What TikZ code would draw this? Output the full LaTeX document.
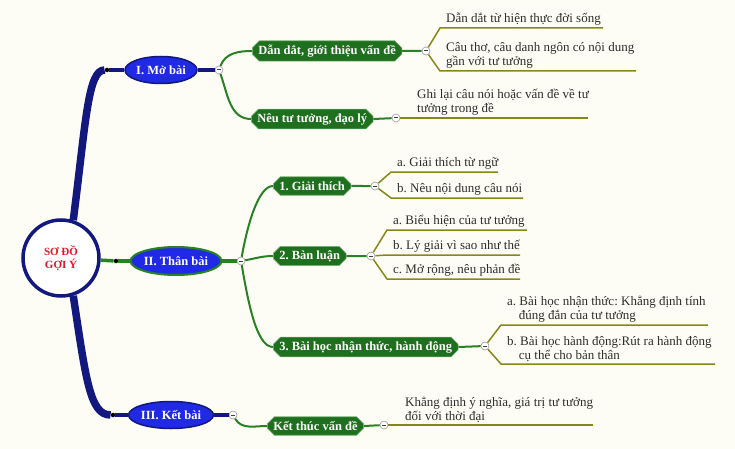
\documentclass[tikz,border=0pt]{standalone}
\usepackage{fontspec}
\setmainfont{Liberation Serif}
\usetikzlibrary{shapes.geometric,shapes.misc}
\frenchspacing

\definecolor{navy}{RGB}{18,24,125}
\definecolor{ovalblue}{RGB}{32,42,228}
\definecolor{leafgreen}{RGB}{40,130,36}
\definecolor{boxgreen}{RGB}{30,112,30}
\definecolor{olive}{RGB}{135,135,25}
\definecolor{paper}{RGB}{253,253,246}
\definecolor{ink}{RGB}{45,45,45}
\definecolor{titlered}{RGB}{226,22,40}

\tikzset{
  hub/.style={circle,draw=navy,line width=3.5pt,fill=white,minimum size=76pt,
    align=center,text=titlered,font=\bfseries\fontsize{11}{13}\selectfont},
  oval/.style={ellipse,fill=ovalblue,draw=navy,line width=1.5pt,inner sep=0pt,
    text=white,font=\bfseries\fontsize{12.5}{14}\selectfont},
  topic/.style={chamfered rectangle,chamfered rectangle xsep=4pt,fill=boxgreen,
    draw=leafgreen!60!white,line width=0.6pt,minimum height=18.5pt,inner xsep=2pt,
    inner ysep=1pt,anchor=west,text=white,font=\bfseries\fontsize{12.5}{14}\selectfont},
  leaf/.style={anchor=south west,align=left,inner xsep=6pt,inner ysep=2pt,
    text=ink,font=\fontsize{13}{14}\selectfont},
  fold/.style={circle,draw=gray!80,fill=white,line width=0.6pt,minimum size=8pt,inner sep=0pt,
    path picture={\draw[line width=1pt,black!75] ([xshift=-2pt]path picture bounding box.center)
      -- ([xshift=2pt]path picture bounding box.center);}},
  dot/.style={circle,fill=black,inner sep=0pt,minimum size=4.5pt},
  trunk/.style={navy,line width=7.5pt},
  stem/.style={line width=3.5pt},
  twig/.style={leafgreen,line width=2pt},
  sprig/.style={olive,line width=1.5pt}
}

\begin{document}
\begin{tikzpicture}[x=1pt,y=-1pt]
\fill[paper] (0,0) rectangle (735,449);
\useasboundingbox (0,0) rectangle (735,449);

% centre and the three parts
\node[hub] (hub) at (61,258) {SƠ ĐỒ\\GỢI Ý};
\node[dot] (d1) at (107,70) {};
\node[dot] (d2) at (116,261) {};
\node[dot] (d3) at (113,415) {};
\node[oval,minimum width=72pt,minimum height=27pt] (mo) at (161,70) {I. Mở bài};
\node[oval,draw=leafgreen,line width=2pt,minimum width=87pt,minimum height=28pt] (than) at (176,261) {II. Thân bài};
\node[oval,minimum width=82pt,minimum height=27pt] (ket) at (171,415) {III. Kết bài};
\node[fold] (fmo) at (219,70) {};
\node[fold] (fthan) at (241,261) {};
\node[fold] (fket) at (233,415) {};

\draw[trunk] (hub.72) .. controls (86,120) and (88,70) .. (d1);
\draw[trunk] (hub.-72) .. controls (86,380) and (90,415) .. (d3);
\draw[navy,stem] (d1) -- (mo);
\draw[navy,stem] (mo) -- (fmo);
\draw[leafgreen,stem] (hub) -- (d2);
\draw[leafgreen,stem] (d2) -- (than);
\draw[leafgreen,stem] (than) -- (fthan);
\draw[navy,stem] (d3) -- (ket);
\draw[navy,stem] (ket) -- (fket);

% I. Mo bai
\node[topic] (dan) at (252,51) {Dẫn dắt, giới thiệu vấn đề};
\node[topic] (neu) at (251,119) {Nêu tư tưởng, đạo lý};
\node[fold] (fdan) at (426,51) {};
\node[fold] (fneu) at (396,118) {};
\draw[twig] (fmo) to[out=70,in=180] (dan.west);
\draw[twig] (fmo) to[out=-70,in=180] (neu.west);
\draw[twig] (dan) -- (fdan);
\draw[twig] (neu.east) -- (fneu);

\node[leaf] (dan1) at (440,28) {Dẫn dắt từ hiện thực đời sống};
\node[leaf] (dan2) at (440,71) {Câu thơ, câu danh ngôn có nội dung\\gần với tư tưởng};
\node[leaf] (neu1) at (411,118) {Ghi lại câu nói hoặc vấn đề về tư\\tưởng trong đề};
\coordinate (dan1e) at (603,28);
\coordinate (dan2e) at (636,71);
\coordinate (neu1e) at (588,118);
\draw[sprig] (fdan) -- (dan1.south west) -- (dan1e);
\draw[sprig] (fdan) -- (dan2.south west) -- (dan2e);
\draw[sprig] (fneu) -- (neu1e);

% II. Than bai
\node[topic] (giai) at (273,186) {1. Giải thích};
\node[topic] (ban) at (273,256) {2. Bàn luận};
\node[topic] (hoc) at (273,347) {3. Bài học nhận thức, hành động};
\node[fold] (fgiai) at (375,186) {};
\node[fold] (fban) at (371,256) {};
\node[fold] (fhoc) at (485,346) {};
\draw[twig] (fthan) to[out=80,in=180,in looseness=0.5] (giai.west);
\draw[twig] (fthan) to[out=10,in=180] (ban.west);
\draw[twig] (fthan) to[out=-80,in=180,in looseness=0.5] (hoc.west);
\draw[twig] (giai) -- (fgiai);
\draw[twig] (ban) -- (fban);
\draw[twig] (hoc.east) -- (fhoc);

\node[leaf] (giai1) at (391,172) {a. Giải thích từ ngữ};
\node[leaf] (giai2) at (391,198) {b. Nêu nội dung câu nói};
\node[leaf] (ban1) at (387,230) {a. Biểu hiện của tư tưởng};
\node[leaf] (ban2) at (387,255) {b. Lý giải vì sao như thế};
\node[leaf] (ban3) at (387,279) {c. Mở rộng, nêu phản đề};
\node[leaf] (hoc1) at (501,325) {a. Bài học nhận thức: Khẳng định tính\\\hspace*{0.9em}đúng đắn của tư tưởng};
\node[leaf] (hoc2) at (501,364) {b. Bài học hành động:Rút ra hành động\\\hspace*{0.9em}cụ thể cho bản thân};
\coordinate (giai1e) at (498,172);
\coordinate (giai2e) at (523,198);
\coordinate (ban1e) at (527,230);
\coordinate (ban2e) at (520,255);
\coordinate (ban3e) at (520,279);
\coordinate (hoc1e) at (708,325);
\coordinate (hoc2e) at (715,364);
\draw[sprig] (fgiai) -- (giai1.south west) -- (giai1e);
\draw[sprig] (fgiai) -- (giai2.south west) -- (giai2e);
\draw[sprig] (fban) -- (ban1.south west) -- (ban1e);
\draw[sprig] (fban) -- (ban2.south west) -- (ban2e);
\draw[sprig] (fban) -- (ban3.south west) -- (ban3e);
\draw[sprig] (fhoc) -- (hoc1.south west) -- (hoc1e);
\draw[sprig] (fhoc) -- (hoc2.south west) -- (hoc2e);

% III. Ket bai
\node[topic] (kthuc) at (267,426) {Kết thúc vấn đề};
\node[fold] (fkthuc) at (384,425) {};
\draw[twig] (fket) to[out=-60,in=180] (kthuc.west);
\draw[twig] (kthuc.east) -- (fkthuc);
\node[leaf] (kthuc1) at (399,425) {Khẳng định ý nghĩa, giá trị tư tưởng\\đối với thời đại};
\coordinate (kthuc1e) at (593,425);
\draw[sprig] (fkthuc) -- (kthuc1e);
\end{tikzpicture}
\end{document}
